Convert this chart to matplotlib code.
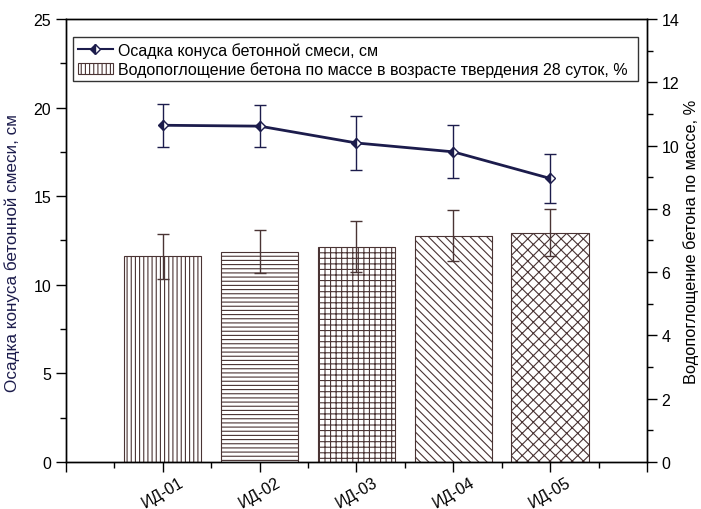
import matplotlib
matplotlib.use("Agg")
import matplotlib.pyplot as plt
from matplotlib.ticker import MultipleLocator, FixedLocator
from matplotlib.patches import Patch
from matplotlib.lines import Line2D
from matplotlib.transforms import ScaledTranslation

plt.rcParams['font.family'] = ['Liberation Sans', 'DejaVu Sans']
plt.rcParams['hatch.linewidth'] = 0.8

categories = ["ИД-01", "ИД-02", "ИД-03", "ИД-04", "ИД-05"]
slump = [19.0, 18.95, 18.0, 17.5, 16.0]
slump_err = [1.2, 1.2, 1.5, 1.5, 1.4]
absorption = [6.5, 6.65, 6.8, 7.15, 7.25]
absorption_err = [0.72, 0.68, 0.8, 0.8, 0.74]
hatches = ['||||', '----', '+++', '\\\\\\\\', 'xxx']

label_line = "Осадка конуса бетонной смеси, см"
label_bar = "Водопоглощение бетона по массе в возрасте твердения 28 суток, %"
ylabel_left = "Осадка конуса бетонной смеси, см"
ylabel_right = "Водопоглощение бетона по массе, %"

navy = '#1c1c4c'
edge = '#4a3434'

fig = plt.figure(figsize=(7.01, 5.10), dpi=100)
ax = fig.add_axes([0.094, 0.092, 0.829, 0.869])
ax2 = ax.twinx()
ax.set_zorder(ax2.get_zorder() + 1)
ax.patch.set_visible(False)

x = list(range(1, len(categories) + 1))
for xi, v, e, h in zip(x, absorption, absorption_err, hatches):
    ax2.bar(xi, v, width=0.8, color='white', edgecolor=edge, hatch=h, linewidth=0.8)
ax2.errorbar(x, absorption, yerr=absorption_err, fmt='none', ecolor=edge,
             elinewidth=1.0, capsize=4, capthick=1.0)

ax.errorbar(x, slump, yerr=slump_err, fmt='none', ecolor=navy,
            elinewidth=1.0, capsize=4, capthick=1.0)
ax.plot(x, slump, color=navy, lw=2.0, marker='D', ms=5, fillstyle='left',
        markerfacecolor=navy, markerfacecoloralt='white', markeredgecolor=navy,
        markeredgewidth=1.0)

ax.set_xlim(0, 6)
ax.set_ylim(0, 25)
ax2.set_ylim(0, 14)

ax.xaxis.set_major_locator(FixedLocator([0, 1, 2, 3, 4, 5, 6]))
ax.xaxis.set_minor_locator(MultipleLocator(0.5))
ax.set_xticklabels([''] + categories + [''], rotation=30, ha='center', va='top',
                   fontsize=10)
offset = ScaledTranslation(13 / 100, 0, fig.dpi_scale_trans)
for lab in ax.get_xticklabels():
    lab.set_transform(lab.get_transform() + offset)
ax.yaxis.set_major_locator(MultipleLocator(5))
ax.yaxis.set_minor_locator(MultipleLocator(2.5))
ax2.yaxis.set_major_locator(MultipleLocator(2))
ax2.yaxis.set_minor_locator(MultipleLocator(1))

for a in (ax, ax2):
    a.tick_params(which='major', direction='out', length=7, width=1.0, labelsize=11.5)
    a.tick_params(which='minor', direction='out', length=4, width=1.0)
    for s in a.spines.values():
        s.set_linewidth(1.0)
ax.tick_params(axis='x', pad=1.5)

ax.set_ylabel(ylabel_left, fontsize=12.3, color=navy, va='center')
ax.yaxis.set_label_coords(-0.092, 0.474)
ax2.set_ylabel(ylabel_right, fontsize=11.8, color='black', labelpad=3)

handles = [
    Line2D([], [], color=navy, lw=1.5, marker='D', ms=5, fillstyle='left',
           markerfacecolor=navy, markerfacecoloralt='white', markeredgecolor=navy),
    Patch(facecolor='white', edgecolor=edge, hatch='||||', linewidth=0.8),
]
leg = ax.legend(handles, [label_line, label_bar], loc='upper left',
                bbox_to_anchor=(0.012, 0.858, 0.972, 0.101), mode='expand',
                fontsize=11.5, frameon=True, fancybox=False, borderpad=0.3,
                labelspacing=0.2, handlelength=2.2, handletextpad=0.3,
                borderaxespad=0)
leg.get_frame().set_edgecolor('black')
leg.get_frame().set_linewidth(1.0)

fig.savefig("out.png", dpi=100)
